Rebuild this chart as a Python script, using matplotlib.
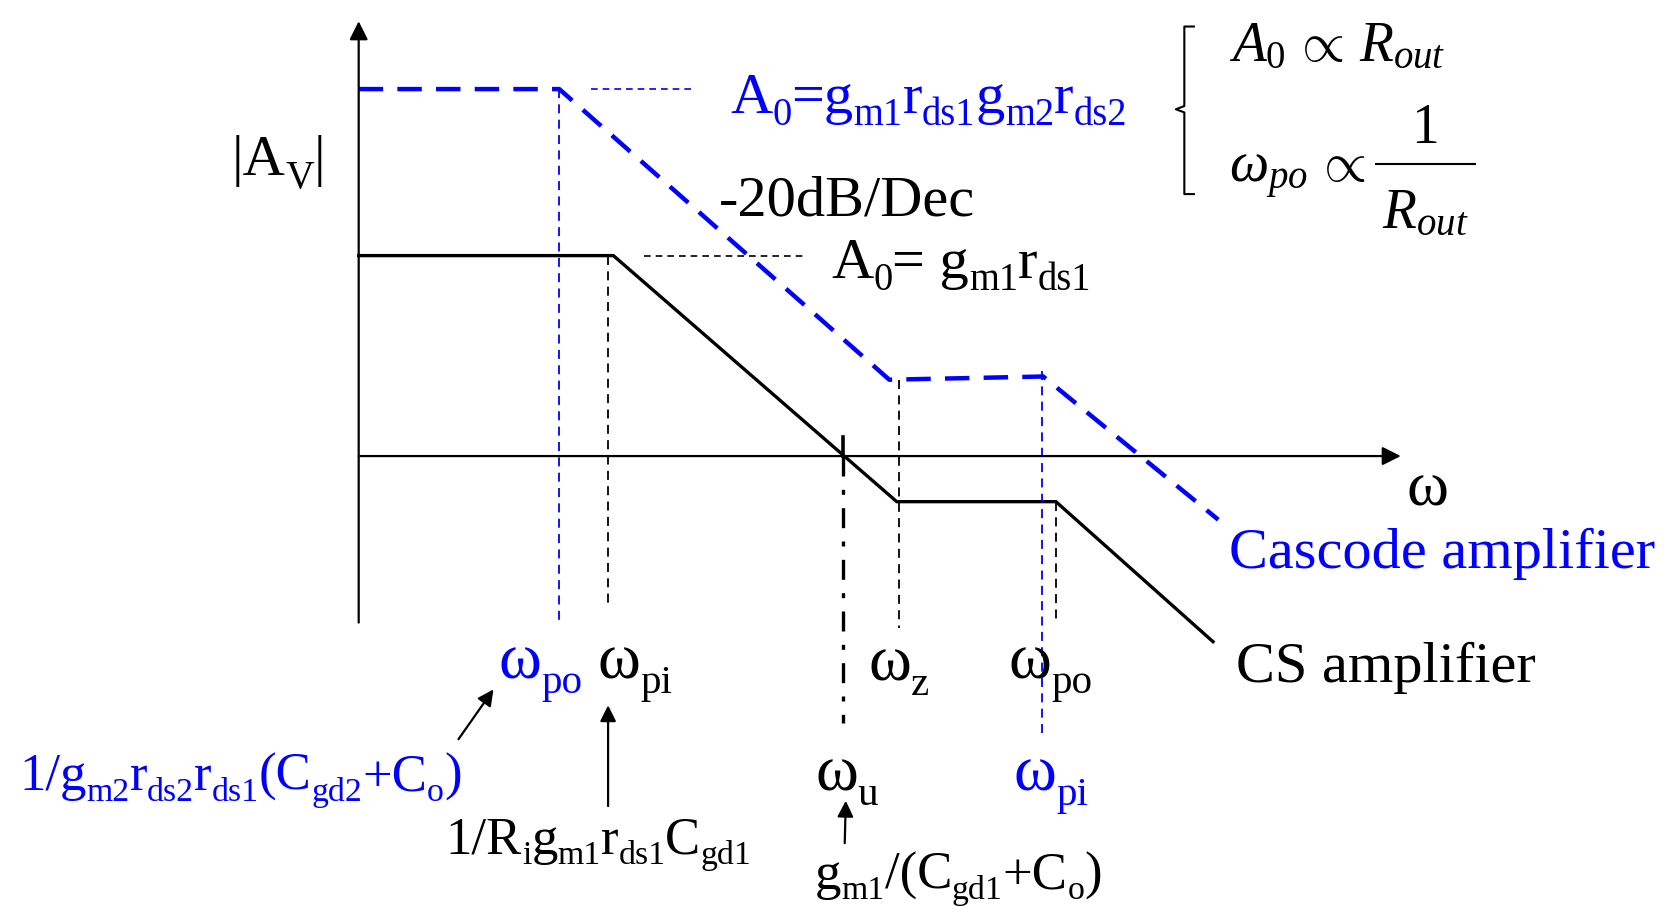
import re
import matplotlib
matplotlib.use("Agg")
import matplotlib.pyplot as plt

plt.rcParams['font.family'] = ['Liberation Serif', 'DejaVu Serif']
plt.rcParams['mathtext.fontset'] = 'custom'
plt.rcParams['mathtext.rm'] = 'Liberation Serif'
plt.rcParams['mathtext.it'] = 'Liberation Serif:italic'
plt.rcParams['mathtext.bf'] = 'Liberation Serif:bold'

BLUE = '#0000ff'
FS = 42

# Asymptotic Bode magnitude curves (diagram coordinates)
cascode_x = [338, 527, 838, 983, 1148]
cascode_y = [84, 84, 358, 355, 490]
cs_x = [338, 578, 845, 995, 1143]
cs_y = [241, 241, 473, 473, 605]

# Frequency markers: (x, y_top, y_bottom)
blue_markers = [(527, 84, 588), (982, 350, 695)]
black_markers = [(573, 241, 570), (847, 358, 592), (995, 473, 585)]
wu_marker = (794, 430, 682)

# Labels: (x, baseline y, text, size, colour, subscript scale, drop)
formula_labels = [
    (218, 165, '|A_{V}|', 42, 'k', 0.68, 0.22),
    (688, 107, 'A_{0}=g_{m1}r_{ds1}g_{m2}r_{ds2}', 42, BLUE, 0.66, 0.2),
    (783, 262, 'A_{0}= g_{m1}r_{ds1}', 42, 'k', 0.66, 0.2),
    (18, 745, '1/g_{m2}r_{ds2}r_{ds1}(C_{gd2}+C_{o})', 38, BLUE, 0.64, 0.2),
    (420, 805, '1/R_{i}g_{m1}r_{ds1}C_{gd1}', 38, 'k', 0.64, 0.2),
    (768, 838, 'g_{m1}/(C_{gd1}+C_{o})', 38, 'k', 0.64, 0.2),
]
omega_labels = [
    (470, 640, 'po', BLUE),
    (563, 640, 'pi', 'k'),
    (818, 642, 'z', 'k'),
    (950, 640, 'po', 'k'),
    (768, 745, 'u', 'k'),
    (955, 745, 'pi', BLUE),
]

fig = plt.figure(figsize=(16.64, 9.10), dpi=100)
ax = fig.add_axes([0, 0, 1, 1])
ax.set_xlim(0, 1568)
ax.set_ylim(858, 0)
ax.axis('off')
renderer = fig.canvas.get_renderer()
PX2DATA = 1568 / 1664.0


def rich(x, y, s, size, color='k', sub=0.66, drop=0.2, main_size=None):
    """Draw text with _{...} subscripts as consecutive real text pieces."""
    tokens = []
    pos = 0
    for m in re.finditer(r'_\{([^}]*)\}', s):
        if m.start() > pos:
            tokens.append((s[pos:m.start()], False))
        tokens.append((m.group(1), True))
        pos = m.end()
    if pos < len(s):
        tokens.append((s[pos:], False))
    cx = x
    for txt, is_sub in tokens:
        fs = size * sub if is_sub else (main_size or size)
        dy = drop * size * 100 / 72 * PX2DATA if is_sub else 0
        t = ax.text(cx, y + dy, txt, fontsize=fs, color=color, va='baseline', ha='left')
        w, h, d = renderer.get_text_width_height_descent(txt, t.get_fontproperties(), ismath=False)
        cx += w * PX2DATA
    return cx


# axes
arr = dict(arrowstyle='-|>', lw=1.6, color='k', mutation_scale=28, shrinkA=0, shrinkB=0)
ax.annotate('', xy=(338, 20), xytext=(338, 587), arrowprops=arr)
ax.annotate('', xy=(1320, 430), xytext=(338, 430), arrowprops=arr)

# curves
ax.plot(cs_x, cs_y, color='k', lw=2.4, solid_joinstyle='miter')
ax.plot(cascode_x, cascode_y, color=BLUE, lw=3.2, dashes=(5.5, 3.2))

# guide lines
ax.plot([557, 655], [84, 84], color=BLUE, lw=1.2, dashes=(4, 3))
ax.plot([607, 760], [241, 241], color='k', lw=1.2, dashes=(4, 3))
for x, y0, y1 in blue_markers:
    ax.plot([x, x], [y0, y1], color=BLUE, lw=1.3, dashes=(5, 3.5))
for x, y0, y1 in black_markers:
    ax.plot([x, x], [y0, y1], color='k', lw=1.3, dashes=(5, 3.5))
x, y0, y1 = wu_marker
ax.plot([x, x], [412, 430], color='k', lw=2.6)
ax.plot([x, x], [y0, y1], color='k', lw=2.4, dashes=(6, 4, 1.5, 4))

# text labels
ax.text(677, 203, '-20dB/Dec', fontsize=FS, va='baseline')
for x, y, s, size, col, sub, drop in formula_labels:
    rich(x, y, s, size, col, sub, drop)
for x, y, s, col in omega_labels:
    rich(x, y, 'ω_{' + s + '}', 40, col, 0.74, 0.26, main_size=47)

# bracket and proportionalities
ax.plot([1125, 1116, 1116, 1108, 1116, 1116, 1125],
        [25, 25, 100, 103, 106, 183, 183], color='k', lw=1.5)
ax.text(1158, 58, r'$A_0\,\propto\,R_{out}$', fontsize=40, va='baseline')
ax.text(1158, 172, r'$\omega_{po}\,\propto$', fontsize=40, va='baseline')
ax.text(1343, 135, '1', fontsize=40, ha='center', va='baseline')
ax.plot([1297, 1390], [155, 155], color='k', lw=1.5)
ax.text(1343, 215, r'$R_{out}$', fontsize=40, ha='center', va='baseline')

ax.text(1345, 477, 'ω', fontsize=46, ha='center', va='baseline')
ax.text(1158, 536, 'Cascode amplifier', fontsize=FS, color=BLUE, va='baseline')
ax.text(1165, 643, 'CS amplifier', fontsize=FS, va='baseline')

# pointer arrows
parr = dict(arrowstyle='-|>', lw=1.6, color='k', mutation_scale=24, shrinkA=0, shrinkB=0)
ax.annotate('', xy=(465, 650), xytext=(432, 697), arrowprops=parr)
ax.annotate('', xy=(573, 665), xytext=(573, 760), arrowprops=parr)
ax.annotate('', xy=(797, 755), xytext=(796, 795), arrowprops=parr)

fig.savefig('out.png', dpi=100)
